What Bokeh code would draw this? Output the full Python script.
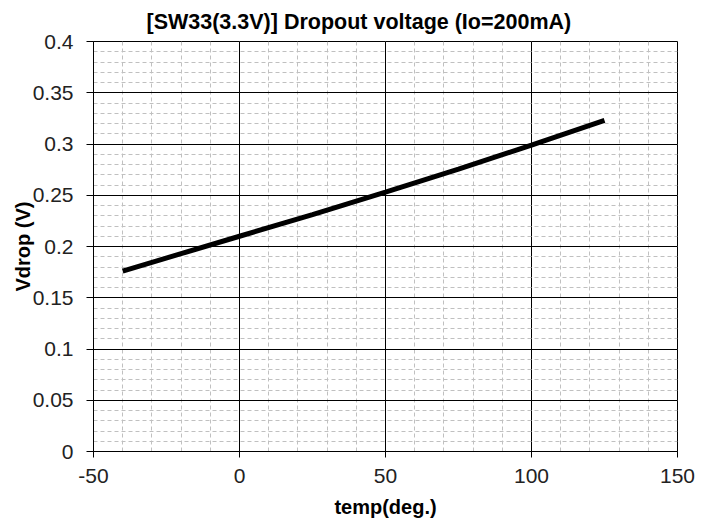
from bokeh.plotting import figure
from bokeh.models import FixedTicker, Range1d
from bokeh.embed import file_html
from bokeh.resources import INLINE

# data
temp = [-40, -20, 0, 25, 50, 75, 100, 125]
vdrop = [0.176, 0.193, 0.210, 0.231, 0.253, 0.2755, 0.299, 0.323]

x_ticks = [-50, 0, 50, 100, 150]
x_labels = ["-50", "0", "50", "100", "150"]
x_minor = list(range(-50, 151, 10))
y_ticks = [0, 0.05, 0.1, 0.15, 0.2, 0.25, 0.3, 0.35, 0.4]
y_labels = ["0", "0.05", "0.1", "0.15", "0.2", "0.25", "0.3", "0.35", "0.4"]
y_minor = [i / 100 for i in range(0, 41)]

title = "[SW33(3.3V)] Dropout voltage (Io=200mA)"
x_title = "temp(deg.)"
y_title = "Vdrop (V)"

FONT = "Liberation Sans"

p = figure(width=715, height=524, output_backend="svg", toolbar_location=None,
           x_range=Range1d(-50, 150), y_range=Range1d(0, 0.4),
           min_border_left=93, min_border_right=38, min_border_top=38, min_border_bottom=73)

p.title.text = title
p.title.align = "left"
p.title.offset = 53
p.title.standoff = 15
p.title.text_font = FONT
p.title.text_font_size = "21.5px"
p.title.text_font_style = "bold"
p.title.text_color = "#000000"

p.line(temp, vdrop, line_color="black", line_width=5)

p.xaxis.ticker = FixedTicker(ticks=x_ticks, minor_ticks=x_minor)
p.yaxis.ticker = FixedTicker(ticks=y_ticks, minor_ticks=y_minor)
p.xaxis.major_label_overrides = {t: l for t, l in zip(x_ticks, x_labels)}
p.yaxis.major_label_overrides = {t: l for t, l in zip(y_ticks, y_labels)}

for ax in (p.xaxis, p.yaxis):
    ax.axis_line_color = "black"
    ax.axis_line_width = 1
    ax.major_tick_line_color = "black"
    ax.major_tick_in = 0
    ax.minor_tick_line_color = None
    ax.major_label_text_font = FONT
    ax.major_label_text_font_size = "21px"
    ax.major_label_text_color = "#222222"
    ax.axis_label_text_font = FONT
    ax.axis_label_text_font_size = "20px"
    ax.axis_label_text_font_style = "bold"
    ax.axis_label_text_color = "black"

p.xaxis.axis_label = x_title
p.yaxis.axis_label = y_title
p.yaxis.major_tick_out = 7
p.xaxis.major_tick_out = 6
p.yaxis.major_label_standoff = 13
p.xaxis.major_label_standoff = 11
p.yaxis.axis_label_standoff = -4
p.xaxis.axis_label_standoff = 10

for g in (p.xgrid, p.ygrid):
    g.grid_line_color = "black"
    g.grid_line_width = 1
    g.minor_grid_line_color = "#c0c0c0"
    g.minor_grid_line_dash = "4 3"
    g.minor_grid_line_width = 1

p.outline_line_color = "black"
p.outline_line_width = 1
p.background_fill_color = "white"
p.border_fill_color = "white"

open("out.html", "w").write(file_html(p, INLINE))
